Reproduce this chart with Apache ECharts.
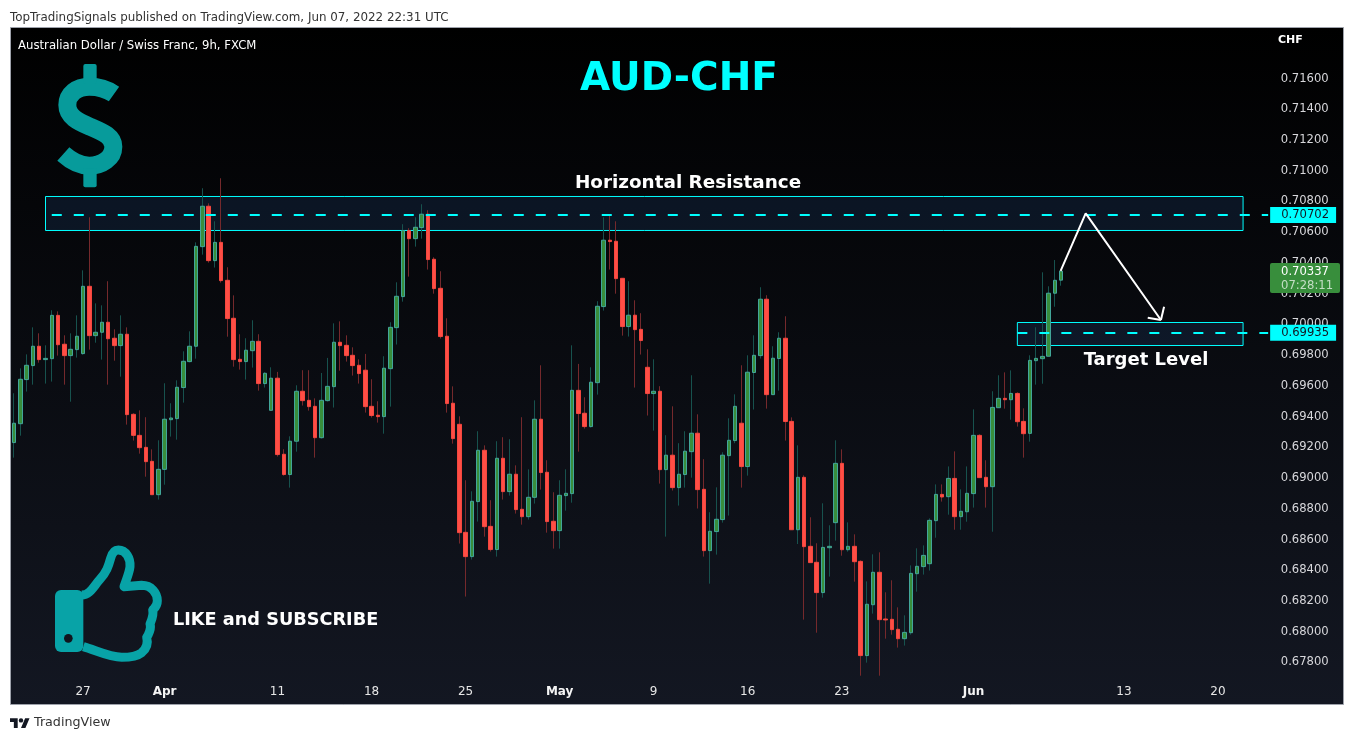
<!DOCTYPE html>
<html><head><meta charset="utf-8">
<style>html,body{margin:0;padding:0;background:#fff}#c{width:1354px;height:740px}</style>
<script src="https://cdn.jsdelivr.net/npm/echarts@6/dist/echarts.min.js"></script>
</head><body><div id="c"></div>
<script>
// Prices in 1e-5 units (points)
const opens = [69221,69344,69631,69722,69848,69761,69767,70049,69861,69787,69826,69800,70238,69917,69939,70004,69900,69852,69926,69405,69268,69190,69099,68882,69047,69370,69377,69579,69748,69848,70496,70759,70405,70524,70277,70030,69763,69748,69819,69880,
69605,69431,69640,69145,69013,69230,69555,69496,69457,69253,69494,69585,69874,69854,69789,69724,69692,69457,69399,69390,69702,69969,70171,70600,70548,70620,70707,70414,70225,69913,69477,69340,68637,68479,68837,69171,68676,68525,69119,68902,69015,68787,68739,
68865,69373,69028,68709,68648,68876,68889,69561,69412,69325,69611,70106,70538,70531,70290,69976,70050,69958,69711,69540,69555,69045,69139,68928,69013,69162,69282,68917,68518,68642,68720,69136,69234,69347,69065,69677,69787,70154,69533,69768,69900,
69359,68654,68995,68546,68442,68245,68537,68700,69086,68524,68546,68448,67835,68166,68377,68073,68071,68006,67945,67984,68368,68414,68433,68713,68884,68869,68988,68739,68771,68889,69268,68995,68934,69448,69509,69500,69541,69359,69281,69754,69767,69783,70193,70278];
const closes = [69347,69633,69724,69848,69761,69769,70049,69858,69787,69828,69913,70238,69917,69939,70004,69897,69852,69926,69403,69268,69188,69097,68882,69047,69373,69381,69581,69750,69848,70498,70759,70405,70524,70275,70028,69761,69748,69822,69880,69605,
69672,69640,69143,69013,69230,69555,69494,69455,69253,69496,69587,69874,69852,69787,69722,69670,69455,69397,69390,69705,69971,70173,70600,70548,70622,70707,70412,70223,69911,69475,69247,68635,68479,68839,69171,68674,68525,69119,68902,69015,68785,68739,68865,
69373,69026,68707,68648,68878,68891,69561,69410,69325,69614,70108,70538,70529,70288,69976,70050,69956,69885,69540,69555,69045,69139,68928,69015,69165,69282,68915,68518,68644,68722,69139,69236,69457,69065,69679,69789,70154,69533,69770,69900,69358,
68654,68995,68544,68440,68245,68539,68546,69086,68524,68546,68446,67835,68169,68377,68069,68067,68004,67945,67986,68370,68416,68487,68715,68884,68867,68988,68739,68774,68891,69268,68993,68934,69450,69509,69500,69541,69357,69279,69756,69769,69782,70193,70277,70337];
const lows = [69123,69266,69553,69598,69741,69605,69618,69787,69598,69487,69774,69793,69826,69871,69761,69598,69754,69650,69338,69234,69149,68999,68882,68850,68947,69260,69240,69481,69743,69767,70444,70392,70360,70262,69910,69715,69696,69631,69709,69559,
69579,69431,69130,69006,68928,69162,69462,69429,69123,69247,69488,69449,69689,69748,69657,69605,69416,69384,69351,69279,69455,69859,70138,70301,70496,70548,70347,70190,69898,69416,69214,68564,68219,68460,68707,68609,68512,68479,68850,68876,68759,68687,68720,
68824,68915,68635,68531,68531,68778,68830,69162,69312,69319,69533,70080,70347,70190,69917,69911,69579,69794,69397,69299,68954,68609,68909,68811,68928,68993,68792,68479,68303,68492,68700,68746,69217,68928,69006,69436,69768,69442,69533,69559,69234,
68654,68561,68069,68440,67984,68212,68349,68583,68485,68511,68316,67704,67789,68108,67704,67945,67971,67887,67900,67971,68251,68362,68388,68602,68837,68752,68654,68654,68706,68798,68993,68798,68641,69448,69442,69370,69325,69123,69227,69598,69604,69783,70105,70242];
const highs = [69542,69704,69795,69971,69932,69854,70082,70075,69919,69932,70049,70342,70687,70127,70114,70271,69958,70049,69971,69412,69431,69386,69177,69236,69607,69477,69626,69815,69945,70524,70876,70778,70661,70941,70362,70179,69926,69900,70017,69926,
69679,69711,69681,69178,69262,69594,69692,69692,69509,69674,69772,69997,70010,69919,69841,69763,69798,69633,69490,69783,70004,70264,70642,70616,70687,70772,70733,70427,70336,70030,69587,69392,68976,68904,69295,69203,68846,69230,69256,69243,69073,69386,69047,
69496,69724,69106,68898,68976,69047,69854,69733,69516,69711,70141,70687,70698,70661,70290,70271,70147,70063,69828,69763,69588,69269,69457,69217,69295,69659,69405,69113,68768,68930,69158,69379,69535,69724,69789,69919,70232,70180,69848,69939,70043,
69385,69203,69008,68735,68566,68826,68683,69236,69177,68702,68624,68455,68318,68494,68507,68247,68325,68149,68097,68422,68533,68552,68728,68949,68949,69066,69164,68917,69066,69437,69275,69106,69555,69659,69678,69691,69548,69444,69789,69971,70329,70238,70409,70337];

const tickPositions = [11,24,42,57,72,87,102,117,132,153,177,192];
const tickLabels = ['27','Apr','11','18','25','May','9','16','23','Jun','13','20'];
const monthLabels = ['Apr','May','Jun'];
const barSlots = 201;

const resistanceLevel = 0.70702, targetLevel = 0.69935, lastPrice = 0.70337;
const resistanceZone = [0.706012, 0.708224];
const targetZone = [0.698528, 0.700025];
const arrowX = [166.9,170.9,182.9];
const arrowY = [0.70338,0.70713,0.70019];
const barbAX = [180.8,182.9];
const barbAY = [0.70034,0.70019];
const barbBX = [183.4,182.9];
const barbBY = [0.70105,0.70019];

const categories = Array.from({length:barSlots},()=> '');
tickPositions.forEach((p,i)=>{categories[p]=tickLabels[i];});
const rows = opens.map((o,i)=>[o/1e5,closes[i]/1e5,lows[i]/1e5,highs[i]/1e5]);
const bodies = opens.map((o,i)=>[o/1e5,closes[i]/1e5,Math.min(o,closes[i])/1e5,Math.max(o,closes[i])/1e5]);
const CY='#00ffff';
const FONT='"DejaVu Sans"';
const bgBottom='#131722';

const G=echarts.graphic;
G.registerShape('dollarS',G.extendPath('M342 282 C322 268 295 260 268 260 C230 260 202 282 202 315 C202 350 235 365 270 380 C305 395 340 408 340 440 C340 475 305 497 268 497 C240 497 210 480 190 462',{}));
G.registerShape('thumbHand',G.extendPath('M245 195 C270 195 280 170 300 148 C320 125 325 110 332 85 C336 70 342 60 355 60 C378 60 392 85 390 110 C388 130 378 150 372 170 L425 166 C455 166 472 190 472 212 C472 230 462 235 458 240 C462 255 455 270 450 282 C455 295 445 315 440 322 C445 340 440 355 425 368 C410 380 390 382 365 382 C330 382 290 362 250 350',{}));
G.registerShape('tvLogo',G.extendPath('M14 22H7V11H0V4h14v18zM28 22h-8l7.5-18h8L28 22z',{}));

const chart = echarts.init(document.getElementById('c'),null,{renderer:'canvas'});
const zip=(a,b)=>a.map((v,i)=>[v,b[i]]);
const annot=(x,y)=>({type:'line',xAxisIndex:1,yAxisIndex:0,data:zip(x,y),symbol:'none',silent:true,z:6,
  lineStyle:{color:'#fff',width:2},animation:false});
const levelLine=(from,v)=>[{coord:[from,v],label:{formatter:v.toFixed(5)}},{coord:[200,v]}];

function txt(x,y,text,font,fill,align){
  return {type:'text',z:60,style:{x,y,text,font:font,fill,align:align||'left',verticalAlign:'middle'}};
}

chart.setOption({
  animation:false,
  backgroundColor:'#fff',
  grid:{left:11.015,top:46.26,width:1260.27,height:645.44,show:false},
  xAxis:[
    {type:'category',data:categories,boundaryGap:true,position:'bottom',
     axisLine:{show:false},axisTick:{show:false},splitLine:{show:false},
     axisLabel:{interval:0,margin:0,verticalAlign:'middle',color:'#e6e6e6',fontFamily:FONT,fontSize:12,hideOverlap:false,
       formatter:v=>monthLabels.includes(v)?`{m|${v}}`:v,
       rich:{m:{color:'#f4f4f4',fontFamily:FONT,fontSize:12,fontWeight:'bold',verticalAlign:'middle'}}}},
    {type:'value',min:-0.5,max:200.5,show:false,position:'top',splitLine:{show:false}}
  ],
  yAxis:{type:'value',position:'right',min:0.676,max:0.718,interval:0.002,scale:false,
    axisLine:{show:false},axisTick:{show:false},splitLine:{show:false},
    axisLabel:{margin:9.5,showMinLabel:false,showMaxLabel:false,formatter:v=>`{s| }{a|${v.toFixed(5)}}`,
      rich:{s:{width:0,height:15,lineHeight:15,fontSize:1},
            a:{height:12,lineHeight:12,verticalAlign:'bottom',color:'#d8d8dc',fontFamily:FONT,fontSize:11.6}}}},
  series:[
    {type:'candlestick',data:rows,barWidth:1,z:3,silent:true,
     itemStyle:{color:'#17524e',color0:'#75292c',borderColor:'#17524e',borderColor0:'#75292c',borderWidth:1},
     markArea:{silent:true,z:1,itemStyle:{color:'rgba(22,44,74,0.42)',borderColor:CY,borderWidth:1},
       data:[[{coord:[5,resistanceZone[1]]},{coord:[196,resistanceZone[0]]}],
             [{coord:[160,targetZone[1]]},{coord:[196,targetZone[0]]}]]},
     markLine:{silent:true,symbol:'none',z:5,
       lineStyle:{color:CY,width:2,type:[10,12]},
       label:{show:true,position:'end',distance:2,backgroundColor:CY,color:'#131722',fontFamily:FONT,fontSize:11.6,
              padding:[2,7,2,11]},
       data:[levelLine(6,resistanceLevel),levelLine(160,targetLevel)]}},
    {type:'candlestick',data:bodies,barWidth:4,z:4,silent:true,
     itemStyle:{color:'#388e3c',color0:'#ff4e45',borderColor:'#42a69a',borderColor0:'#f4473f',borderWidth:1}},
    annot(arrowX,arrowY),annot(barbAX,barbAY),annot(barbBX,barbBY)
  ],
  graphic:{elements:[
    {type:'rect',z:-10,shape:{x:10.5,y:27.5,width:1333,height:677},
     style:{stroke:'#9ea2ab',lineWidth:1,
       fill:new echarts.graphic.LinearGradient(0,0,0,1,[{offset:0,color:'#000000'},{offset:1,color:bgBottom}])}},
    txt(10,17.5,'TopTradingSignals published on TradingView.com, Jun 07, 2022 22:31 UTC','11.9px '+FONT,'#333'),
    txt(18,45.5,'Australian Dollar / Swiss Franc, 9h, FXCM','11.7px '+FONT,'#fff'),
    txt(1278,40,'CHF','bold 11px '+FONT,'#fff'),
    txt(679,80,'AUD-CHF','bold 39px '+FONT,CY,'center'),
    txt(688,183,'Horizontal Resistance','bold 18.4px '+FONT,'#fff','center'),
    txt(1146,360,'Target Level','bold 18px '+FONT,'#fff','center'),
    txt(173,620,'LIKE and SUBSCRIBE','bold 17.7px '+FONT,'#fff'),
    // dollar sign
    {type:'group',x:0,y:0,scaleX:1/3,scaleY:1/3,children:[
      {type:'dollarS',z:55,style:{fill:'none',stroke:'#079b9b',lineWidth:54,lineCap:'butt'}},
      {type:'rect',z:55,shape:{x:250,y:192,width:40,height:60,r:6},style:{fill:'#079b9b'}},
      {type:'rect',z:55,shape:{x:250,y:505,width:40,height:57,r:6},style:{fill:'#079b9b'}}
    ]},
    // thumbs up
    {type:'group',x:0,y:530,scaleX:1/3,scaleY:1/3,children:[
      {type:'rect',z:55,shape:{x:165,y:180,width:85,height:186,r:18},style:{fill:'#08a3a7'}},
      {type:'circle',z:56,shape:{cx:205,cy:325,r:13},style:{fill:'#11141d'}},
      {type:'thumbHand',z:55,style:{fill:'none',stroke:'#08a3a7',lineWidth:27,lineJoin:'round'}}
    ]},
    // last price badge
    {type:'rect',z:70,shape:{x:1270,y:263,width:70,height:30,r:2},style:{fill:'#388e3c'}},
    {type:'text',z:71,style:{x:1281,y:272,text:lastPrice.toFixed(5),font:'11.6px '+FONT,fill:'#fff',verticalAlign:'middle'}},
    {type:'text',z:71,style:{x:1281,y:286,text:'07:28:11',font:'11.6px '+FONT,fill:'rgba(255,255,255,0.7)',verticalAlign:'middle'}},
    // TradingView logo
    {type:'group',x:10,y:716,scaleX:0.55,scaleY:0.55,children:[
      {type:'tvLogo',z:55,style:{fill:'#131722'}},
      {type:'circle',z:55,shape:{cx:20,cy:8,r:4},style:{fill:'#131722'}}
    ]},
    txt(34,722.5,'TradingView','12.7px '+FONT,'#333')
  ]}
});
</script>
</body></html>
